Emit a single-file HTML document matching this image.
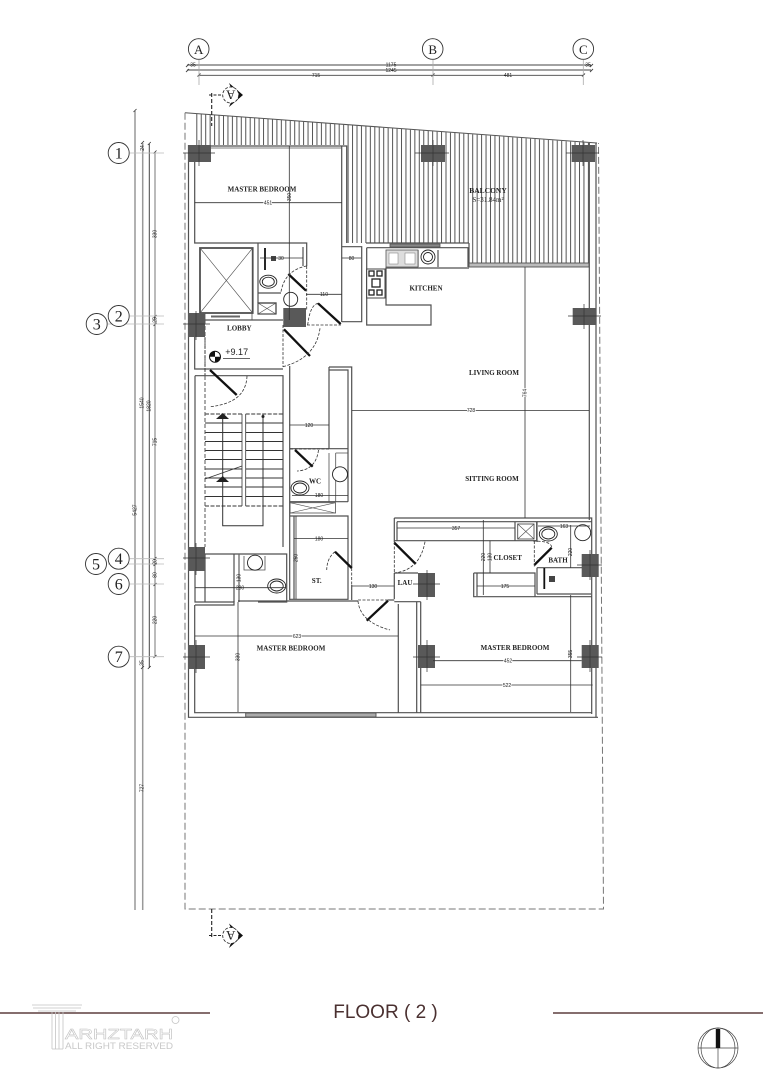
<!DOCTYPE html>
<html><head><meta charset="utf-8"><title>Floor 2</title>
<style>
html,body{margin:0;padding:0;background:#fff;width:763px;height:1080px;overflow:hidden}
svg{display:block}
.l{font-family:"Liberation Serif",serif;font-weight:bold;font-size:7px;fill:#222;text-anchor:middle}
.d{font-family:"Liberation Sans",sans-serif;font-size:5px;fill:#222;text-anchor:middle}
.b{font-family:"Liberation Serif",serif;font-size:16px;fill:#222;text-anchor:middle}
</style></head><body>
<svg width="763" height="1080" viewBox="0 0 763 1080" xmlns="http://www.w3.org/2000/svg">
<defs>
<pattern id="h" width="4.45" height="10" patternUnits="userSpaceOnUse"><rect width="4.45" height="10" fill="#fff"/><line x1="1" y1="0" x2="1" y2="10" stroke="#555" stroke-width="1"/></pattern>
</defs>
<rect width="763" height="1080" fill="#fff"/>

<!-- hatch -->
<polygon points="194,113.5 589,143 589,263 469,263 469,243 346,243 346,145 194,145" fill="url(#h)"/>

<!-- site boundary -->
<path d="M185,112.7 L597,143" stroke="#555" stroke-width="1" fill="none"/>
<path d="M185,112.7 V909 H603.5 L598.5,143" stroke="#777" stroke-width="1" stroke-dasharray="7 3" fill="none"/>

<!-- top dimensions -->
<g stroke="#444" stroke-width="0.9" fill="none">
<path d="M187,65 H591 M187,70 H591 M199,75.3 H584"/>
<path d="M186,67 l3,-3 M186,72 l3,-3 M590,67 l3,-3 M590,72 l3,-3 M197.500,76.500 l3,-3 M431.500,76.500 l3,-3 M582,76.500 l3,-3"/>
</g>
<g stroke="#aaa" stroke-width="0.8"><path d="M199,60 V85 M433,60 V85 M583.300,60 V85"/></g>
<g fill="#fff" stroke="#333" stroke-width="0.9"><circle cx="198.700" cy="49" r="10.300"/><circle cx="432.700" cy="49" r="10.300"/><circle cx="583.300" cy="49" r="10.300"/></g>
<text class="b" x="198.700" y="54" style="font-size:13px">A</text><text class="b" x="432.700" y="54" style="font-size:13px">B</text><text class="b" x="583.300" y="54" style="font-size:13px">C</text>
<g>
<text class="d" x="193" y="66.500">35</text><text class="d" x="391" y="66.500">1175</text><text class="d" x="391" y="71.800">1245</text><text class="d" x="316" y="77">715</text><text class="d" x="508" y="77">481</text><text class="d" x="588" y="66.500">35</text>
</g>

<!-- left dimensions -->
<g fill="none">
<path d="M135,111 V910 M142.700,143 V910" stroke="#999" stroke-width="1.500"/>
<path d="M149.300,144 V668" stroke="#444" stroke-width="1"/>
<path d="M155,152 V657" stroke="#777" stroke-width="1"/>
<path d="M133.500,112 l3,-3 M141,144 l3,-3 M147.800,145 l3,-3 M153.500,153.500 l3,-3 M153.500,318 l3,-3 M153.500,326 l3,-3 M153.500,560 l3,-3 M153.500,566 l3,-3 M153.500,586 l3,-3 M153.500,658 l3,-3 M141,669 l3,-3 M147.800,669 l3,-3" stroke="#333" stroke-width="0.800"/>
</g>
<g stroke="#bbb" stroke-width="0.8"><path d="M130,153 H164 M130,316 H164 M108,324 H164 M130,558.700 H164 M108,564 H164 M130,584 H164 M130,656.700 H164"/></g>
<g fill="#fff" stroke="#333" stroke-width="0.9">
<circle cx="118.700" cy="153" r="10.500"/><circle cx="118.700" cy="316" r="10.500"/><circle cx="96.700" cy="324" r="10.500"/><circle cx="118.700" cy="558.700" r="10.500"/><circle cx="96" cy="564" r="10.500"/><circle cx="118.700" cy="584" r="10.500"/><circle cx="118.700" cy="656.700" r="10.500"/>
</g>
<text class="b" x="118.700" y="158.500">1</text><text class="b" x="118.700" y="321.500">2</text><text class="b" x="96.700" y="329.500">3</text><text class="b" x="118.700" y="564">4</text><text class="b" x="96" y="569.500">5</text><text class="b" x="118.700" y="589.500">6</text><text class="b" x="118.700" y="662">7</text>
<g>
<text class="d" transform="translate(144,148) rotate(-90)">24</text>
<text class="d" transform="translate(156.500,234) rotate(-90)">330</text>
<text class="d" transform="translate(156.500,320) rotate(-90)">25</text>
<text class="d" transform="translate(143.500,403) rotate(-90)">1540</text>
<text class="d" transform="translate(150.500,406) rotate(-90)">1820</text>
<text class="d" transform="translate(156.500,442) rotate(-90)">715</text>
<text class="d" transform="translate(136.500,510) rotate(-90)">5427</text>
<text class="d" transform="translate(156.500,562) rotate(-90)">20</text>
<text class="d" transform="translate(156.500,575) rotate(-90)">80</text>
<text class="d" transform="translate(156.500,620) rotate(-90)">220</text>
<text class="d" transform="translate(143.500,663) rotate(-90)">35</text>
<text class="d" transform="translate(143.500,788) rotate(-90)">727</text>
</g>

<!-- section marks -->
<g fill="#111">
<polygon points="229,83 243,95 229,107 234,95"/>
<polygon points="229,923.500 243,935.500 229,948 234,935.500"/>
</g>
<circle cx="230.700" cy="95" r="8" fill="#fff"/><circle cx="230.700" cy="935.500" r="8" fill="#fff"/>
<g stroke="#222" fill="none">
<path d="M211.700,93 V126" stroke-width="1.100" stroke-dasharray="4 2"/>
<path d="M209,95 H222" stroke-width="1" stroke-dasharray="3 1.500"/>
<circle cx="230.700" cy="95" r="8" stroke-width="0.800" stroke-dasharray="3 1.500"/>
<path d="M211.700,909 V937" stroke-width="1.100" stroke-dasharray="4 2"/>
<path d="M209,935.500 H222" stroke-width="1" stroke-dasharray="3 1.500"/>
<circle cx="230.700" cy="935.500" r="8" stroke-width="0.800" stroke-dasharray="3 1.500"/>
</g>
<text class="b" transform="translate(230.700,95) rotate(180)" y="4.500" style="font-size:13px">A</text>
<text class="b" transform="translate(230.700,935.500) rotate(180)" y="4.500" style="font-size:13px">A</text>

<!-- walls -->
<g stroke="#505050" stroke-width="1.200" fill="none">
<!-- outer -->
<path d="M188.500,145 V717.300 H598"/>
<path d="M194.700,162 V243 H258 M194.700,337 V369 H283 M195,375.700 H283 V547 M195,375.700 V547"/>
<path d="M194.700,146 H346.700 V243 M341.700,146 V322"/>
<path d="M194.700,148 H341" stroke-width="0.700"/>
<path d="M341.700,246.700 H361.700 V321.700 H342"/>
<path d="M589.300,143 V520 M596,143 V717.300"/>
<!-- upper WC -->
<path d="M258,243 H306.700 V266 M258,243 V303 M303,247 V266 M258,293 H281 M258,303 H276 V314"/>
<path d="M252,320 H283 M205,320 H252"/>
<path d="M258,303 H276 V314 H258 Z"/>
<!-- lift -->
<rect x="200" y="248" width="52.700" height="65" stroke-width="1.800"/>
<path d="M200,248 L252.700,313 M252.700,248 L200,313" stroke-width="0.600"/>
<rect x="205" y="313" width="47" height="7" stroke-width="0.800"/>
<path d="M211,316.500 H240" stroke-width="2" stroke="#666"/>
<path d="M258,303 L276,314 M276,303 L258,314" stroke-width="0.600"/>
<!-- kitchen -->
<path d="M366.700,247.700 H468 V267 M366.700,247.700 V325 H431 V305 H386 V268 H469 M469,243 V263 M366,243 H469"/>
<rect x="469" y="263" width="120" height="4" stroke-width="0.900" fill="#bbb"/>
<rect x="390" y="244" width="50" height="3" stroke-width="0.800" fill="#888"/>
<path d="M418,250 V267 M438,250 V267"/>
<!-- corridor -->
<path d="M289.700,366 V600 M329,367 H351.700 V568 M351.700,585 V600 M329,367 V448.700 H290 M329,370 H348 V501.700 M329,448.700 H348"/>
<path d="M290,501.700 H348 M290,516 H348 V599.300 H290 M294,516 V599"/>
<rect x="290" y="502.700" width="45.500" height="10.300" stroke-width="0.800"/>
<path d="M290,502.700 L335.500,513 M335.500,502.700 L290,513" stroke-width="0.600"/>
<path d="M335.700,453 H348 M335.700,453 V502 M329,453 V502" stroke-width="0.800"/>
<!-- lower-left rooms -->
<path d="M195,554 H286.700 V602 H258 M234,554 V602 M195,554 V602 H234 M205,554 V602"/>
<path d="M239,554 V602 M244,556 V570 H265 V556" stroke-width="0.800"/>
<path d="M195,605 H234 V601 M238,601 H358 M388,600 H394.300"/>
<path d="M194.700,605 V712.700 H591.700 M398.300,604 V712.700 M416.700,601.700 V712.700 M420.700,601.700 V712.700 M394.300,601.700 H420.700"/>
<rect x="245.700" y="713" width="130.300" height="4" stroke-width="0.900" fill="#aaa"/>
<!-- LAU / closet -->
<path d="M394.300,518 H591.700 V714 M394.300,518 V542 M394.300,573 V599 M394.300,573 H418"/>
<path d="M394.300,540.700 H536.700 M397,521.700 H515 V540.700 M397,521.700 V540.700 H515 M515,521.700 H536.700 V541"/>
<rect x="517.700" y="524" width="16.300" height="15" stroke-width="0.900"/>
<path d="M517.700,524 L534,539 M534,524 L517.700,539" stroke-width="0.600"/>
<path d="M537,521.700 H591.700 M537,521.700 V542 M537,567.700 H591.700 M537,567.700 V594"/>
<path d="M473.700,573 H535 V596.700 M473.700,573 V596.700 H591.700 M477,573 V596 M537,594 H591"/>
</g>

<!-- columns -->
<g fill="#595959">
<rect x="188" y="145" width="23" height="17"/><rect x="421" y="145" width="24" height="17"/><rect x="571.700" y="145" width="23.300" height="17"/>
<rect x="572.700" y="308" width="23.300" height="17"/><rect x="188" y="313" width="17" height="24"/><rect x="283.300" y="308" width="22.700" height="19"/>
<rect x="188" y="547" width="17" height="24"/><rect x="188" y="645" width="17" height="24"/>
<rect x="418" y="573" width="17" height="24"/><rect x="418" y="645" width="17" height="23"/>
<rect x="581.700" y="554" width="17" height="23"/><rect x="581.700" y="645" width="17" height="23"/>
</g>
<g stroke="#333" stroke-width="0.700" fill="none">
<path d="M183,153 H215 M199,140 V166 M415,153 H449 M433,140 V166 M566,153 H599 M583,140 V166 M568,316 H601 M584,304 V329 M183,324 H210 M196,311 V340 M183,558 H210 M196,543 V575 M183,657 H210 M196,640 V673 M413,584 H440 M427,570 V600 M413,657 H440 M427,640 V672 M577,565 H602 M590,550 V580 M577,657 H602 M590,640 V672"/>
</g>

<!-- stairs -->
<g stroke="#333" stroke-width="1" fill="none">
<path d="M205,414 H242 M245.700,414 H282.700" stroke-dasharray="4 1.500"/>
<path d="M205,423 H242 M205,432.500 H242 M205,441.500 H242 M205,450.500 H242 M205,459.500 H242 M205,469 H242 M205,478 H242 M205,487 H242 M205,496.500 H242 M245.700,423 H282.700 M245.700,432.500 H282.700 M245.700,441.500 H282.700 M245.700,450.500 H282.700 M245.700,459.500 H282.700 M245.700,469 H282.700 M245.700,478 H282.700 M245.700,487 H282.700 M245.700,496.500 H282.700"/>
<path d="M205,506 H242 M245.700,506 H282.700" stroke-dasharray="4 1.500"/>
<path d="M242,414 V506 M245.700,414 V506" stroke-width="0.800"/>
<path d="M222.700,414 V525.700 H263 V414"/>
<path d="M205,479 L242,466" stroke-width="0.700"/>
<path d="M205,376 V547 M205,320 V376" stroke-dasharray="4 2" stroke="#555"/>
</g>
<polygon points="222.700,413 216,419 229,419" fill="#222"/><polygon points="222.700,476 216,482 229,482" fill="#222"/><circle cx="263" cy="416.500" r="1.500" fill="#222"/>

<!-- doors -->
<g stroke="#111" stroke-width="2.300" fill="none">
<path d="M288.300,274 L306,290.700 M318,303.300 L340.700,324 M284,329.300 L310,356 M210,370 L236.700,395 M295,450 L312.700,466.700 M335,551.700 L351.700,568 M388,600.700 L366.700,620.700 M394.300,542.700 L415.700,564 M534.300,565 L551.700,547.700"/>
<path d="M265,248 V270 M544.300,568 V589" stroke-width="1.800"/>
</g>
<g stroke="#333" stroke-width="0.800" fill="none" stroke-dasharray="3 1.500">
<path d="M306.700,266 Q285,270 281,291.700 M307.700,325 Q310,305 318,303.300 M320,328.300 Q316,358 283,366.700 M247,376 Q246,403 210,406.700 M318.500,450 Q316,470 297,471 M335,551.700 Q327,558 326.700,570 M358,601 Q360,622 390,630 M425,541.700 Q420,570 394.300,573 M533,541 Q552,541 551.700,547.700"/>
<path d="M306.700,266 V310 M307,325 H341 M283,325 V367 M205,337 V375 M358,600 H388 M351.700,568 V585 M534.300,541 V567 M290,449 H329 M394.300,542 V573"/>
</g>

<!-- fixtures -->
<g stroke="#222" stroke-width="0.900" fill="#fff">
<ellipse cx="268.300" cy="281.700" rx="8.500" ry="6.500"/><ellipse cx="268.300" cy="281.700" rx="6" ry="4.500"/>
<circle cx="290.700" cy="299.300" r="7"/><circle cx="340" cy="474.300" r="7.500"/>
<ellipse cx="300" cy="488" rx="9" ry="7"/><ellipse cx="300" cy="488" rx="6.500" ry="5"/>
<circle cx="255" cy="562.700" r="7.500"/>
<ellipse cx="276.700" cy="586" rx="9" ry="7"/><ellipse cx="276.700" cy="586" rx="6.500" ry="5"/>
<ellipse cx="548.300" cy="534" rx="9" ry="7"/><ellipse cx="548.300" cy="534" rx="6.500" ry="5"/>
<circle cx="582.700" cy="532.700" r="8"/>
<circle cx="428" cy="257" r="7"/><circle cx="428" cy="257" r="4.500"/>
</g>
<rect x="271" y="256" width="5" height="5" fill="#444"/><rect x="549" y="576" width="6" height="6" fill="#444"/>
<rect x="386" y="250" width="32" height="17" fill="#ddd" stroke="#555" stroke-width="0.800"/>
<rect x="389" y="253" width="9" height="11" fill="#fff" stroke="#777" stroke-width="0.500"/><rect x="405" y="253" width="10" height="11" fill="#fff" stroke="#777" stroke-width="0.500"/>
<rect x="366.700" y="269" width="18.300" height="29" fill="#fff" stroke="#444" stroke-width="1"/>
<g fill="none" stroke="#222" stroke-width="1.300"><rect x="369" y="271" width="5" height="5"/><rect x="377" y="271" width="5" height="5"/><rect x="369" y="290" width="5" height="5"/><rect x="377" y="290" width="5" height="5"/><rect x="372" y="279" width="8" height="8"/></g>

<!-- interior dims -->
<g stroke="#333" stroke-width="0.800" fill="none">
<path d="M194.700,202.700 H342 M289.300,146 V320 M260,258 H303 M342,258 H361 M306,294.300 H342 M352,410.500 H589 M525,267 V518 M289.700,425 H329 M292,495.500 H348 M294,538.500 H348 M296,516 V599 M352,586 H394 M397,528 H515 M538,526 H590 M483.300,520 V595 M490,540.700 V573 M476.700,586 H535 M570.700,525 V568 M570.700,595 V712 M433,660.700 H581.700 M420.700,685 H592.700 M195,587.700 H286 M238,602 V712 M239,555 V602 M195,636 H398"/>
</g>

<!-- room labels -->
<text class="l" x="262" y="191.500">MASTER  BEDROOM</text>
<text class="l" x="488" y="193" style="font-size:7.500px">BALCONY</text>
<text class="d" x="488" y="202" style="font-family:'Liberation Serif',serif;font-size:7px">S=31.84m²</text>
<text class="l" x="426" y="290.500">KITCHEN</text>
<text class="l" x="239.300" y="330.500">LOBBY</text>
<text class="l" x="236.700" y="355" style="font-family:'Liberation Sans',sans-serif;font-weight:normal;font-size:9px">+9.17</text>
<path d="M223,358.500 H250" stroke="#333" stroke-width="0.800"/>
<circle cx="215" cy="356.700" r="5.500" fill="#fff" stroke="#111"/><path d="M215,351 V356.700 H209.500 A5.500,5.500 0 0 1 215,351 M215,356.700 H220.500 A5.500,5.500 0 0 1 215,362 Z" fill="#111"/>
<text class="l" x="494" y="375">LIVING ROOM</text>
<text class="l" x="492" y="481">SITTING ROOM</text>
<text class="l" x="315" y="483.500">WC</text>
<text class="l" x="316.700" y="583">ST.</text>
<text class="l" x="405" y="585">LAU</text>
<text class="l" x="507.700" y="560">CLOSET</text>
<text class="l" x="558" y="562.500">BATH</text>
<text class="l" x="291" y="650.500">MASTER  BEDROOM</text>
<text class="l" x="515" y="650">MASTER  BEDROOM</text>

<!-- dim labels -->
<g>
<text class="d" x="268" y="204.500" style="paint-order:stroke;stroke:#fff;stroke-width:1.500px">451</text>
<text class="d" transform="translate(291,197) rotate(-90)">350</text>
<text class="d" x="281" y="260">30</text><text class="d" x="351.500" y="260">80</text><text class="d" x="324" y="296">110</text>
<text class="d" x="471" y="412.200" style="paint-order:stroke;stroke:#fff;stroke-width:1.500px">728</text>
<text class="d" transform="translate(526.500,393) rotate(-90)" style="paint-order:stroke;stroke:#fff;stroke-width:1.500px">764</text>
<text class="d" x="309" y="427">120</text><text class="d" x="319" y="497">180</text><text class="d" x="319" y="540.500">180</text>
<text class="d" transform="translate(297.500,558) rotate(-90)">250</text>
<text class="d" x="373" y="588">130</text><text class="d" x="456" y="530">357</text><text class="d" x="564" y="528">163</text>
<text class="d" transform="translate(485,557) rotate(-90)">220</text><text class="d" transform="translate(491.500,557) rotate(-90)">130</text>
<text class="d" x="505" y="588">175</text>
<text class="d" transform="translate(572.200,552) rotate(-90)">220</text><text class="d" transform="translate(572.200,654) rotate(-90)">355</text>
<text class="d" x="508" y="662.500" style="paint-order:stroke;stroke:#fff;stroke-width:1.500px">452</text>
<text class="d" x="507" y="686.800" style="paint-order:stroke;stroke:#fff;stroke-width:1.500px">522</text>
<text class="d" x="240" y="589.500">280</text>
<text class="d" transform="translate(240.500,578) rotate(-90)">130</text>
<text class="d" transform="translate(239.500,657) rotate(-90)">330</text>
<text class="d" x="297" y="638" style="paint-order:stroke;stroke:#fff;stroke-width:1.500px">623</text>
</g>

<!-- footer -->
<path d="M0,1013 H210 M553,1013 H763" stroke="#5d3f3f" stroke-width="1.600"/>
<text x="385.500" y="1018" text-anchor="middle" style="font-family:'Liberation Sans',sans-serif;font-size:19px;fill:#4a3030">FLOOR ( 2 )</text>

<!-- logo -->
<g fill="none" stroke="#c4c4c4" stroke-width="0.800">
<path d="M32,1005 H82 M33,1008 H81 M38,1011 H76"/>
<path d="M52,1012 V1049 M55.500,1012 V1049 M59,1012 V1049 M63,1012 V1049 M52,1049 H63"/>
<circle cx="175.500" cy="1020" r="3.500"/>
</g>
<text x="65" y="1039" style="font-family:'Liberation Sans',sans-serif;font-size:15px;fill:#fff;stroke:#c0c0c0;stroke-width:0.500" textLength="108" lengthAdjust="spacingAndGlyphs">ARHZTARH</text>
<text x="65" y="1049" style="font-family:'Liberation Sans',sans-serif;font-size:9px;fill:#c8c8c8" textLength="108" lengthAdjust="spacingAndGlyphs">ALL RIGHT RESERVED</text>

<!-- north mark -->
<g fill="none" stroke="#444" stroke-width="0.700">
<circle cx="718" cy="1048" r="20"/><ellipse cx="718" cy="1048" rx="17" ry="20"/>
<path d="M698,1048 H738 M718,1028 V1068"/>
</g>
<rect x="715.800" y="1029" width="4.400" height="19" fill="#111"/>
</svg>
</body></html>
